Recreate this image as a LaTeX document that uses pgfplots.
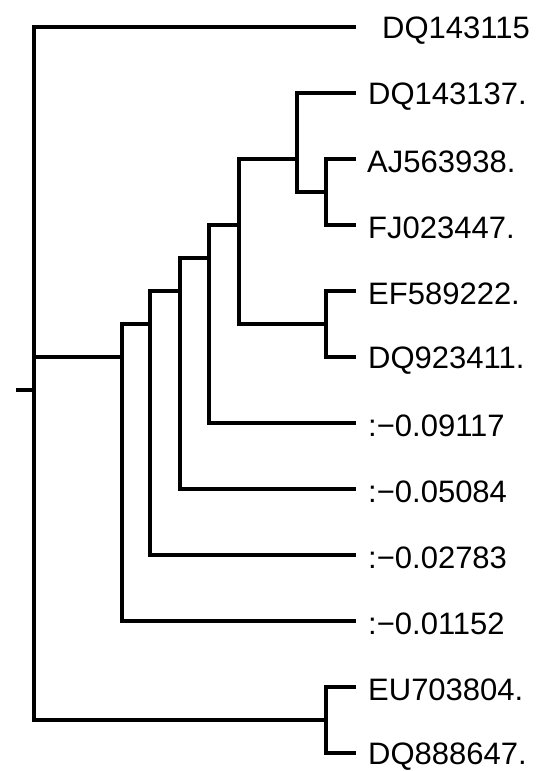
\documentclass[border=0pt]{standalone}
\usepackage{fontspec}
\setmainfont{Liberation Sans}
\usepackage{pgfplots}
\pgfplotsset{compat=1.18}

\begin{document}
\begin{tikzpicture}
\begin{axis}[
  width=544pt, height=771pt, scale only axis,
  hide axis, clip=false,
  xmin=0, xmax=544,
  ymin=-0.409, ymax=11.273, y dir=reverse,
  branch/.style={black, line width=3.8pt, line join=miter, mark=none},
]
% root stub and root bracket (leaf 0 at top, clade N9 at bottom)
\addplot[branch] coordinates {(16,5.5)(34,5.5)};
\addplot[branch] coordinates {(356,0)(34,0)(34,10.5)(326,10.5)};
\addplot[branch] coordinates {(34,5)(122,5)};
% EU703804 / DQ888647
\addplot[branch] coordinates {(356,10)(326,10)(326,11)(356,11)};
% ladder of nodes
\addplot[branch] coordinates {(150,4.5)(122,4.5)(122,9)(356,9)};
\addplot[branch] coordinates {(180,4)(150,4)(150,8)(356,8)};
\addplot[branch] coordinates {(209,3.5)(180,3.5)(180,7)(356,7)};
\addplot[branch] coordinates {(239,3)(209,3)(209,6)(356,6)};
\addplot[branch] coordinates {(297,2)(239,2)(239,4.5)(326,4.5)};
% DQ143137 / (AJ563938, FJ023447)
\addplot[branch] coordinates {(356,1)(297,1)(297,2.5)(326,2.5)};
\addplot[branch] coordinates {(356,2)(326,2)(326,3)(356,3)};
% EF589222 / DQ923411
\addplot[branch] coordinates {(356,4)(326,4)(326,5)(356,5)};
% leaf labels
\addplot[only marks, mark=none, nodes near coords, point meta=explicit symbolic,
  nodes near coords style={anchor=west, inner sep=0pt, text=black,
    font=\fontsize{31}{36}\selectfont}]
  coordinates {
  (382,0.05) [DQ143115]
  (368,1.05) [DQ143137.]
  (367,2.05) [AJ563938.]
  (368,3.05) [FJ023447.]
  (368,4.05) [EF589222.]
  (368,5.05) [DQ923411.]
  (368,6.05) [:−0.09117]
  (368,7.05) [:−0.05084]
  (368,8.05) [:−0.02783]
  (368,9.05) [:−0.01152]
  (368,10.05) [EU703804.]
  (368,11.05) [DQ888647.]
  };
\end{axis}
\pgfresetboundingbox
\useasboundingbox (current axis.south west) rectangle (current axis.north east);
\end{tikzpicture}
\end{document}
